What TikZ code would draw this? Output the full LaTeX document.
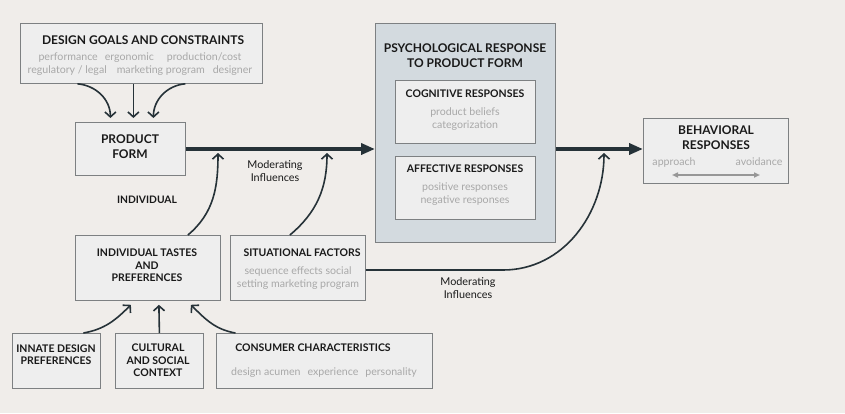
\documentclass[tikz,border=0pt]{standalone}
\usepackage{fontspec}
\setmainfont{Lato}
\usepackage{tikz}
\usetikzlibrary{arrows.meta,positioning,calc}
\definecolor{bgpaper}{RGB}{240,237,234}
\definecolor{boxfill}{RGB}{238,238,238}
\definecolor{psyfill}{RGB}{211,218,223}
\definecolor{boxline}{RGB}{125,128,130}
\definecolor{flowdark}{RGB}{38,50,56}
\definecolor{subgray}{RGB}{168,168,168}
\definecolor{ttltext}{RGB}{25,25,25}

\begin{document}
\begin{tikzpicture}[x=1pt,y=1pt,
  box/.style={draw=boxline,fill=boxfill,line width=0.8pt,inner sep=0pt,anchor=north west},
  ttl/.style={font=\bfseries\fontsize{12}{15}\selectfont,text=ttltext,align=center},
  ttlsm/.style={font=\bfseries\fontsize{10.5}{12.5}\selectfont,text=ttltext,align=center},
  sub/.style={font=\fontsize{10.6}{13}\selectfont,text=subgray,align=center},
  lbl/.style={font=\fontsize{10.8}{12.5}\selectfont,text=ttltext,align=center},
  mainflow/.style={draw=flowdark,line width=3.5pt,-{Triangle[length=14pt,width=11pt]}},
  infl/.style={draw=flowdark,line width=1.6pt,-{Straight Barb[length=5pt,width=11pt]}}]

  % Background
  \fill[bgpaper] (0,0) rectangle (845,-413);
  \useasboundingbox (0,0) rectangle (845,-413);

  % Boxes
  \node[box,minimum width=242pt,minimum height=60pt] (goals) at (20,-23) {};
  \node[box,minimum width=110pt,minimum height=53pt] (form) at (75,-122) {};
  \node[box,fill=psyfill,minimum width=180pt,minimum height=219pt] (psych) at (375,-23) {};
  \node[box,minimum width=140pt,minimum height=63pt] (cogn) at (395,-80) {};
  \node[box,minimum width=140pt,minimum height=63pt] (affect) at (395,-156) {};
  \node[box,minimum width=145pt,minimum height=65pt] (behav) at (643,-118) {};
  \node[box,minimum width=145pt,minimum height=65pt] (tastes) at (75,-235) {};
  \node[box,minimum width=135pt,minimum height=65pt] (situ) at (230,-235) {};
  \node[box,minimum width=88pt,minimum height=55pt] (innate) at (12,-333) {};
  \node[box,minimum width=88pt,minimum height=55pt] (cultural) at (115,-333) {};
  \node[box,minimum width=216pt,minimum height=55pt] (consumer) at (216,-333) {};

  % Texts
  \node[ttl] (goalsttl) at (143,-40) {DESIGN GOALS AND CONSTRAINTS};
  \node[sub] (goalssub) at (140,-64.5) {performance\hspace{7pt}ergonomic\hspace{13pt}production/cost\\
    regulatory / legal\hspace{10pt}marketing program\hspace{8pt}designer};
  \node[ttl] (formttl) at (130,-146.5) {PRODUCT\\FORM};
  \node[ttl] (psychttl) at (465,-55.5) {PSYCHOLOGICAL RESPONSE\\TO PRODUCT FORM};
  \node[ttlsm] (cognttl) at (465,-94) {COGNITIVE RESPONSES};
  \node[sub] (cognsub) at (465,-119) {product beliefs\\categorization};
  \node[ttlsm] (affectttl) at (465,-169) {AFFECTIVE RESPONSES};
  \node[sub] (affectsub) at (465,-194.5) {positive responses\\negative responses};
  \node[ttl] (behavttl) at (716,-137.5) {BEHAVIORAL\\RESPONSES};
  \node[sub] (approach) at (674,-162) {approach};
  \node[sub] (avoid) at (759,-162) {avoidance};
  \node[ttlsm] (tastesttl) at (147,-265.5) {INDIVIDUAL TASTES\\AND\\PREFERENCES};
  \node[ttlsm] (situttl) at (302,-253) {SITUATIONAL FACTORS};
  \node[sub] (situsub) at (298,-278.5) {sequence effects social\\setting marketing program};
  \node[ttlsm] (innatettl) at (56,-354.5) {INNATE DESIGN\\PREFERENCES};
  \node[ttlsm] (culturalttl) at (158,-360.5) {CULTURAL\\AND SOCIAL\\CONTEXT};
  \node[ttlsm] (consumerttl) at (313,-348) {CONSUMER CHARACTERISTICS};
  \node[sub] (consumersub) at (324,-373) {design acumen\hspace{7pt}experience\hspace{7pt}personality};
  \node[lbl,font=\bfseries\fontsize{10.3}{12}\selectfont] (indiv) at (147,-200) {INDIVIDUAL};
  \node[lbl] (moder1) at (275,-171) {Moderating\\Influences};
  \node[lbl] (moder2) at (468,-288) {Moderating\\Influences};

  % Main flow
  \coordinate (axis) at (0,-149);
  \draw[mainflow] (form.east |- axis) -- (psych.west |- axis);
  \draw[mainflow] (psych.east |- axis) -- (behav.west |- axis);

  % Design goals into product form
  \draw[infl] ([xshift=-64pt]goals.south) to[out=-5,in=90] ([xshift=-20pt,yshift=4pt]form.north);
  \draw[infl] ([xshift=-8pt]goals.south) -- ([xshift=3pt,yshift=4pt]form.north);
  \draw[infl] ([xshift=44pt]goals.south) to[out=185,in=90] ([xshift=23pt,yshift=4pt]form.north);

  % Moderating influences
  \coordinate (m1) at (218,-153);
  \coordinate (m2) at (327,-153);
  \coordinate (m3) at (604,-153);
  \coordinate (bend) at (503,-270);
  \draw[infl] ([xshift=40pt]tastes.north) to[out=40,in=-90] (m1);
  \draw[infl] ([xshift=-8pt]situ.north) to[out=40,in=-90] (m2);
  \draw[infl] (situ.east |- bend) -- (bend) to[out=0,in=-90] (m3);

  % Into individual tastes
  \draw[infl] ([xshift=27pt]innate.north) to[out=10,in=-135] ([xshift=-17pt,yshift=-4pt]tastes.south);
  \draw[infl] (cultural.north) -- ([xshift=11pt,yshift=-4pt]tastes.south);
  \draw[infl] ([xshift=-89pt]consumer.north) to[out=170,in=-45] ([xshift=43pt,yshift=-4pt]tastes.south);

  % Approach / avoidance
  \draw[subgray!90!black,line width=1.5pt,{Triangle[length=6pt,width=5pt]}-{Triangle[length=6pt,width=5pt]}]
    (672,-175) -- (760,-175);
\end{tikzpicture}
\end{document}
